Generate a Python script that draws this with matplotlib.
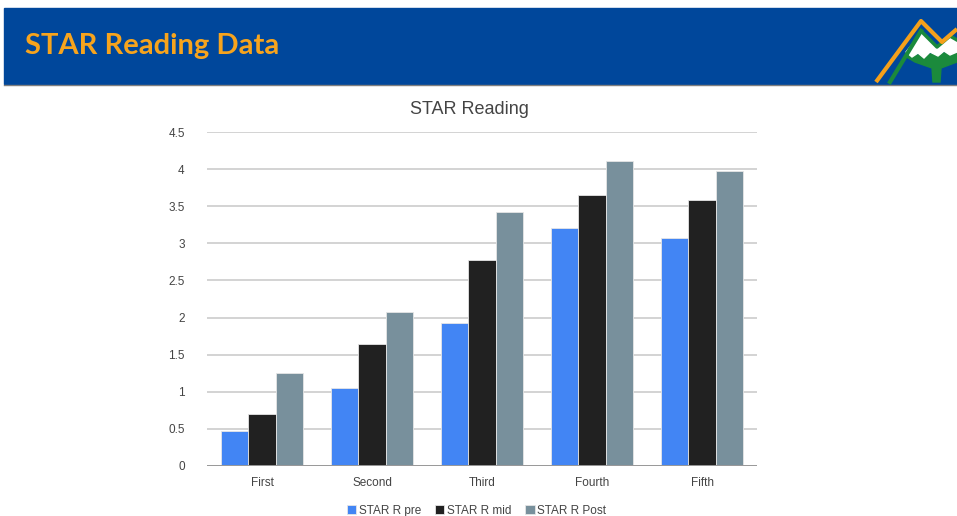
import matplotlib.pyplot as plt
from matplotlib.patches import Rectangle, Polygon
import numpy as np

grades = ["First", "Second", "Third", "Fourth", "Fifth"]
star_pre = [0.47, 1.05, 1.93, 3.21, 3.07]
star_mid = [0.70, 1.64, 2.78, 3.65, 3.58]
star_post = [1.25, 2.08, 3.42, 4.11, 3.97]
series_names = ["STAR R pre", "STAR R mid", "STAR R Post"]
colors = ["#4285F4", "#212121", "#78909C"]

plt.rcParams["font.family"] = ["Liberation Sans", "DejaVu Sans"]

fig = plt.figure(figsize=(9.57, 5.16), dpi=100)
fig.patch.set_facecolor("white")

# slide background: header band + logo, drawn in pixel coordinates
bg = fig.add_axes([0, 0, 1, 1], zorder=0)
bg.set_xlim(0, 957)
bg.set_ylim(516, 0)
bg.axis("off")
bg.add_patch(Rectangle((4, 8), 953, 76, color="#00479B"))
bg.plot([4, 957], [85, 85], color="#7f7f7f", lw=1)
bg.text(25, 46, "STAR Reading Data", color="#F7A41D", fontsize=21,
        fontweight="bold", family="Lato", va="center", ha="left")
# logo
bg.add_patch(Polygon([[905, 56], [957, 52], [957, 62], [941, 68], [940, 82],
                      [933, 82], [932, 68], [915, 62]], closed=True,
                     color="#1B8A3C"))
bg.add_patch(Polygon([[906, 52], [921, 33], [937, 48], [944, 41], [950, 37],
                      [957, 42], [957, 52], [950, 55], [944, 51], [938, 56],
                      [930, 52], [924, 58], [918, 53], [912, 57]],
                     closed=True, color="white"))
bg.plot([921, 937, 950, 957], [31, 47, 36, 40], color="#1B8A3C", lw=2.5)
bg.plot([890, 921], [82, 31], color="#1B8A3C", lw=3)
bg.plot([876, 921, 942, 957], [82, 21, 42, 29], color="#F5A01A", lw=3,
        solid_capstyle="butt")

ax = fig.add_axes([207 / 957, 1 - 466 / 516, 550 / 957, 334 / 516], zorder=1)
ax.patch.set_alpha(0)
x = np.arange(len(grades))
w = 0.25
for i, (vals, name) in enumerate(zip([star_pre, star_mid, star_post], series_names)):
    ax.bar(x + (i - 1) * w, vals, width=w, color=colors[i], label=name,
           edgecolor="#e6e6e6", linewidth=0.6, zorder=3)

ax.set_xlim(-0.5, 4.5)
ax.set_ylim(0, 4.5)
ax.set_yticks(np.arange(0, 4.51, 0.5))
ax.set_yticklabels(["0", "0.5", "1", "1.5", "2", "2.5", "3", "3.5", "4", "4.5"])
ax.set_xticks(x)
ax.set_xticklabels(grades)
ax.grid(axis="y", color="#cccccc", linewidth=1.2, zorder=0)
ax.axhline(0, color="#999999", linewidth=1.4, zorder=4)
for s in ax.spines.values():
    s.set_visible(False)
ax.tick_params(axis="both", length=0, colors="#444444", labelsize=8.5)
ax.tick_params(axis="y", pad=16)
ax.tick_params(axis="x", pad=8)
ax.set_title("STAR Reading", fontsize=13, color="#444444", pad=13, x=0.478)

ax.legend(loc="upper center", bbox_to_anchor=(0.49, -0.085), ncol=3,
          frameon=False, fontsize=8.5, handlelength=0.8, handleheight=0.8,
          handletextpad=0.2, columnspacing=1.2, labelcolor="#444444")

fig.savefig("out.png", dpi=100)
